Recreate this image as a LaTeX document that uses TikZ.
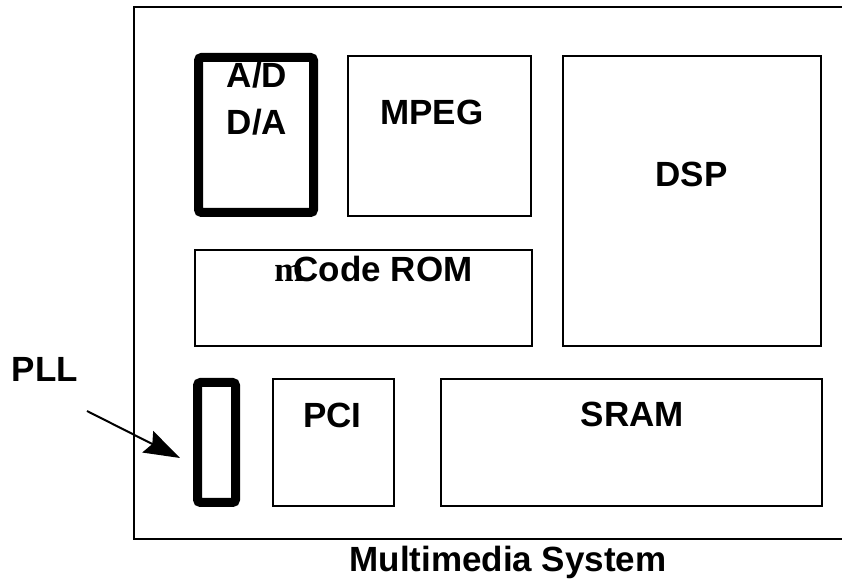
\documentclass[tikz,border=0pt]{standalone}
\usepackage{fontspec}
\setmainfont{Liberation Sans}
\newfontfamily\romanm{Liberation Serif}
\usetikzlibrary{arrows.meta}

\begin{document}
\begin{tikzpicture}[x=1pt,y=1pt,
  block/.style={draw,shape=rectangle,line width=2pt,inner sep=0pt},
  heavyblock/.style={draw,shape=rectangle,line width=9pt,rounded corners=3pt,inner sep=0pt},
  blocklabel/.style={anchor=base,inner sep=0pt,font=\fontsize{35}{42}\selectfont\bfseries}]
\useasboundingbox (0,0) rectangle (842,580);

% chip outline, open on the right
\draw[line width=2pt] (842,573) -- (134,573) -- (134,41) -- (842,41);

\node (adda) [heavyblock,minimum width=115pt,minimum height=155pt] at (256,445) {};
\node (mpeg) [block,minimum width=183pt,minimum height=160pt] at (439.5,444) {};
\node (dsp) [block,minimum width=258pt,minimum height=290pt] at (692,379) {};
\node (rom) [block,minimum width=337pt,minimum height=96pt] at (363.5,282) {};
\node (pll) [heavyblock,minimum width=38pt,minimum height=120pt] at (216.5,137.5) {};
\node (pci) [block,minimum width=121pt,minimum height=127pt] at (333.5,137.5) {};
\node (sram) [block,minimum width=381pt,minimum height=127pt] at (631.5,137.5) {};

\node (adlabel) [blocklabel] at (257,492) {A/D};
\node (dalabel) [blocklabel] at (257,445) {D/A};
\node (mpeglabel) [blocklabel] at (432,455) {MPEG};
\node (dsplabel) [blocklabel] at (691.5,393) {DSP};
\node (romlabel) [blocklabel] at (373.5,298) {{\romanm\bfseries m}\kern-10pt Code ROM};
\node (pcilabel) [blocklabel] at (332.5,152) {PCI};
\node (sramlabel) [blocklabel] at (632.5,153) {SRAM};
\node (plllabel) [blocklabel] at (45,198) {PLL};
\node (syslabel) [blocklabel] at (508,9) {Multimedia System};

\coordinate (plltail) at (87,169);
\coordinate (plltip) at (180,122);
\draw[line width=2pt,-{Stealth[length=36pt,width=24pt,inset=5pt]}] (plltail) -- (plltip);

\end{tikzpicture}
\end{document}
